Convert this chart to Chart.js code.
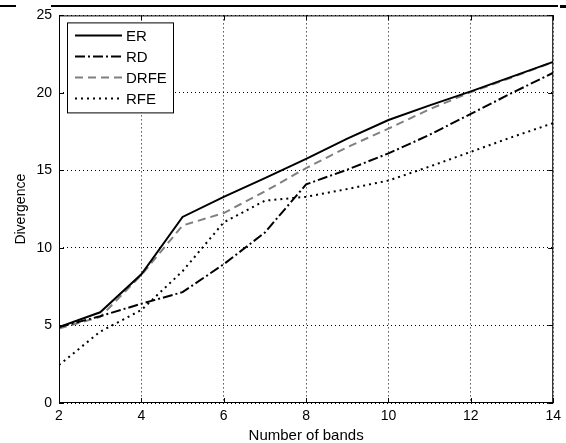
<!DOCTYPE html>
<html>
<head>
<meta charset="utf-8">
<script src="https://cdn.jsdelivr.net/npm/chart.js@4.4.1/dist/chart.umd.min.js"></script>
<style>
  html, body { margin: 0; padding: 0; background: #fff; }
  #wrap { width: 566px; height: 443px; position: relative; }
</style>
</head>
<body>
<div id="wrap"><canvas id="chart"></canvas></div>
<script>
// divergence per number of bands, one array per method
const bands = [2, 3, 4, 5, 6, 7, 8, 9, 10, 11, 12, 13, 14];
const er   = [4.9, 5.85, 8.3, 12.0, 13.3, 14.5, 15.75, 17.05, 18.25, 19.2, 20.1, 21.05, 22.0];
const rd   = [4.9, 5.6, 6.4, 7.15, 8.95, 11.0, 14.1, 15.05, 16.1, 17.3, 18.65, 20.0, 21.3];
const drfe = [4.8, 5.55, 8.25, 11.45, 12.25, 13.65, 15.15, 16.5, 17.7, 18.95, 20.05, 21.0, 22.0];
const rfe  = [2.45, 4.6, 6.0, 8.5, 11.65, 13.05, 13.3, 13.8, 14.35, 15.25, 16.2, 17.15, 18.05];

const xTicks = [2, 4, 6, 8, 10, 12, 14];
const yTicks = [0, 5, 10, 15, 20, 25];

const FONT = "'Liberation Sans', Arial, sans-serif";

function points(values) {
  return bands.map((b, i) => ({ x: b, y: values[i] }));
}

function series(label, values, color, dash) {
  return {
    label: label,
    data: points(values),
    borderColor: color,
    backgroundColor: color,
    borderWidth: 2,
    borderDash: dash,
    pointRadius: 0,
    tension: 0,
    fill: false
  };
}

// MATLAB-style frame: box, inward ticks on all four sides, page rule on top
const framePlugin = {
  id: 'frame',
  afterDatasetsDraw(chart) {
    const { ctx, chartArea: a, scales } = chart;
    ctx.save();
    ctx.strokeStyle = '#000';
    ctx.lineWidth = 1;
    ctx.setLineDash([]);
    ctx.strokeRect(a.left + 0.5, a.top + 0.5, a.right - a.left - 1, a.bottom - a.top - 1);
    const len = 5;
    ctx.beginPath();
    xTicks.forEach(v => {
      const px = Math.round(scales.x.getPixelForValue(v)) + 0.5;
      ctx.moveTo(px, a.bottom); ctx.lineTo(px, a.bottom - len);
      ctx.moveTo(px, a.top); ctx.lineTo(px, a.top + len);
    });
    yTicks.forEach(v => {
      const py = Math.round(scales.y.getPixelForValue(v)) + 0.5;
      ctx.moveTo(a.left, py); ctx.lineTo(a.left + len, py);
      ctx.moveTo(a.right, py); ctx.lineTo(a.right - len, py);
    });
    ctx.stroke();

    // rule across the top of the page
    ctx.lineWidth = 2;
    ctx.beginPath();
    ctx.moveTo(0, 6); ctx.lineTo(16, 6);
    ctx.moveTo(51, 6); ctx.lineTo(558, 6);
    ctx.stroke();
    ctx.fillStyle = '#000';
    ctx.fillRect(560, 5, 6, 3);
    ctx.restore();
  }
};

// boxed legend in the upper left corner of the axes
const legendPlugin = {
  id: 'boxLegend',
  afterDraw(chart) {
    const { ctx, chartArea: a } = chart;
    const x0 = a.left + 8, y0 = a.top + 7, w = 106, h = 90;
    ctx.save();
    ctx.fillStyle = '#fff';
    ctx.fillRect(x0, y0, w, h);
    ctx.strokeStyle = '#000';
    ctx.lineWidth = 1;
    ctx.setLineDash([]);
    ctx.strokeRect(x0 + 0.5, y0 + 0.5, w, h);
    ctx.font = '15px ' + FONT;
    ctx.textBaseline = 'middle';
    chart.data.datasets.forEach((ds, i) => {
      const cy = y0 + 13 + i * 21;
      ctx.strokeStyle = ds.borderColor;
      ctx.lineWidth = 2;
      ctx.setLineDash(ds.borderDash || []);
      ctx.beginPath();
      ctx.moveTo(x0 + 8, cy);
      ctx.lineTo(x0 + 55, cy);
      ctx.stroke();
      ctx.fillStyle = '#000';
      ctx.fillText(ds.label, x0 + 59, cy + 1);
    });
    ctx.restore();
  }
};

new Chart(document.getElementById('chart'), {
  type: 'line',
  data: {
    datasets: [
      series('ER', er, '#000000', []),
      series('RD', rd, '#000000', [10, 3, 2, 3]),
      series('DRFE', drfe, '#808080', [8, 5]),
      series('RFE', rfe, '#000000', [2, 4])
    ]
  },
  options: {
    responsive: true,
    maintainAspectRatio: false,
    animation: false,
    layout: { padding: { left: 0, right: 10, top: 14, bottom: 0 } },
    plugins: {
      legend: { display: false },
      tooltip: { enabled: false }
    },
    scales: {
      x: {
        type: 'linear',
        min: 2,
        max: 14,
        afterBuildTicks: s => { s.ticks = xTicks.map(v => ({ value: v })); },
        afterFit: s => { s.height = 40; },
        ticks: { color: '#000', font: { family: FONT, size: 14 }, padding: 5, maxRotation: 0 },
        grid: { color: '#000', lineWidth: 1, tickLength: 0, drawTicks: false },
        border: { display: false, dash: [1, 3] },
        title: { display: true, text: 'Number of bands', color: '#000',
                 font: { family: FONT, size: 15, lineHeight: 1.0 }, padding: { top: 0, bottom: 0 } }
      },
      y: {
        min: 0,
        max: 25,
        afterBuildTicks: s => { s.ticks = yTicks.map(v => ({ value: v })); },
        afterFit: s => { s.width = 59; },
        ticks: { color: '#000', font: { family: FONT, size: 14 }, padding: 7 },
        grid: { color: '#000', lineWidth: 1, tickLength: 0, drawTicks: false },
        border: { display: false, dash: [1, 3] },
        title: { display: true, text: 'Divergence', color: '#000',
                 font: { family: FONT, size: 14 }, padding: { top: 13, bottom: 0 } }
      }
    }
  },
  plugins: [framePlugin, legendPlugin]
});
</script>
</body>
</html>
